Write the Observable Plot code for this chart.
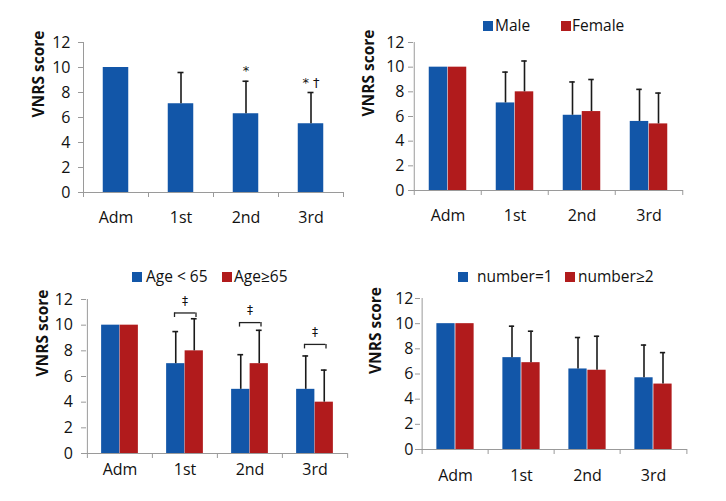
<!DOCTYPE html>
<html><head><meta charset="utf-8">
<script src="https://cdn.jsdelivr.net/npm/d3@7"></script>
<script src="https://cdn.jsdelivr.net/npm/@observablehq/plot@0.6"></script>
<style>
body{margin:0;background:#fff;font-family:"Open Sans",sans-serif;}
#wrap{position:relative;width:726px;height:501px;overflow:hidden;background:#fff;}
.panel{position:absolute;}
.leg{position:absolute;font-size:15.5px;color:#111;white-space:nowrap;line-height:1;}
.sw{position:absolute;width:10px;height:10px;}
</style></head><body><div id="wrap"></div>
<script>
const categories = ["Adm", "1st", "2nd", "3rd"];
const yTicks = [0, 2, 4, 6, 8, 10, 12];
const yLabel = "VNRS score";
const blue = "#1256a8", red = "#b11b1c";

// Panel A: all patients
const allSeries = ["All"];
const allMean = [10, 7.1, 6.3, 5.5];
const allUpper = [10, 9.6, 8.9, 8.0];
const allMarks = ["", "", "*", "* †"];

// Panel B: sex
const sexSeries = ["Male", "Female"];
const maleMean = [10, 7.1, 6.1, 5.6];
const maleUpper = [10, 9.6, 8.8, 8.2];
const femaleMean = [10, 8.0, 6.4, 5.4];
const femaleUpper = [10, 10.5, 9.0, 7.9];

// Panel C: age
const ageSeries = ["Age < 65", "Age≥65"];
const youngMean = [10, 7.0, 5.0, 5.0];
const youngUpper = [10, 9.5, 7.7, 7.6];
const oldMean = [10, 8.0, 7.0, 4.0];
const oldUpper = [10, 10.5, 9.6, 6.5];
const ageBracket = [null, 10.95, 10.2, 8.5];
const ageBracketMark = "‡";

// Panel D: number
const numSeries = ["number=1", "number≥2"];
const oneMean = [10, 7.3, 6.4, 5.7];
const oneUpper = [10, 9.8, 8.9, 8.3];
const twoMean = [10, 6.9, 6.3, 5.2];
const twoUpper = [10, 9.4, 9.0, 7.7];

const wrap = document.getElementById("wrap");

function panel(cfg) {
  const {left, top, width, height, mL, mR, mT, mB, series, means, uppers, colors, barW, yPad, xPad, labelDx} = cfg;
  const plotW = width - mL - mR;
  const plotH = height - mT - mB;
  const bw = plotW / categories.length;
  const unit = 12 / plotH; // value units per pixel
  const n = series.length;
  const off = si => n === 1 ? 0 : (si === 0 ? -barW / 2 : barW / 2);
  const marks = [];
  series.forEach((s, si) => {
    const rows = categories.map((c, i) => ({cat: c, mean: means[si][i], up: uppers[si][i]}));
    const o = off(si);
    marks.push(Plot.barY(rows, {x: "cat", y: "mean", fill: colors[si],
      insetLeft: bw / 2 + o - barW / 2, insetRight: bw / 2 - o - barW / 2}));
  });
  series.forEach((s, si) => {
    const rows = categories.map((c, i) => ({cat: c, mean: means[si][i], up: uppers[si][i]})).filter(d => d.up > d.mean);
    const o = off(si);
    marks.push(Plot.ruleX(rows, {x: "cat", y1: "mean", y2: "up", dx: o, stroke: "#1a1a1a", strokeWidth: 1.6}));
    marks.push(Plot.tickY(rows, {x: "cat", y: "up", dx: o, insetLeft: bw / 2 - 3, insetRight: bw / 2 - 3, stroke: "#1a1a1a", strokeWidth: 1.6}));
  });
  // axes lines
  marks.push(Plot.ruleY([0], {stroke: "#9a9a9a", strokeWidth: 1}));
  marks.push(Plot.ruleX([categories[0]], {x: d => d, dx: -bw / 2, y1: -5 * unit, y2: 12, stroke: "#9a9a9a", strokeWidth: 1}));
  marks.push(Plot.ruleX(categories.slice(1), {x: d => d, dx: -bw / 2, y1: 0, y2: -5 * unit, stroke: "#9a9a9a", strokeWidth: 1}));
  marks.push(Plot.ruleX([categories[categories.length - 1]], {x: d => d, dx: bw / 2, y1: 0, y2: -5 * unit, stroke: "#9a9a9a", strokeWidth: 1}));
  marks.push(Plot.axisY({ticks: yTicks, tickSize: 5, tickPadding: yPad, fontSize: 16, stroke: "#9a9a9a", fill: "#111", label: null}));
  marks.push(Plot.axisX({tickSize: 0, tickPadding: xPad, fontSize: 16, fill: "#111", label: null}));
  marks.push(Plot.text([yLabel], {frameAnchor: "left", dx: labelDx, rotate: -90, fontSize: 15.5, fontWeight: "bold", fill: "#111", text: d => d}));
  if (cfg.extra) marks.push(...cfg.extra(bw, unit));
  const svg = Plot.plot({
    width, height, marginLeft: mL, marginRight: mR, marginTop: mT, marginBottom: mB,
    style: {fontFamily: "'Open Sans', sans-serif", fontSize: "15px", color: "#111", background: "transparent", overflow: "visible"},
    x: {type: "band", domain: categories, padding: 0},
    y: {domain: [0, 12]},
    marks
  });
  const div = document.createElement("div");
  div.className = "panel";
  div.style.left = left + "px";
  div.style.top = top + "px";
  div.appendChild(svg);
  wrap.appendChild(div);
}

function legend(items) {
  items.forEach(it => {
    const sw = document.createElement("div");
    sw.className = "sw";
    sw.style.left = it.sx + "px"; sw.style.top = it.sy + "px"; sw.style.background = it.color;
    wrap.appendChild(sw);
    const t = document.createElement("div");
    t.className = "leg";
    t.style.left = it.tx + "px"; t.style.top = it.ty + "px";
    t.textContent = it.label;
    wrap.appendChild(t);
  });
}

// Panel A
panel({left: 0, top: 0, width: 350, height: 232, mL: 83, mR: 7, mT: 42, mB: 40,
  series: allSeries, means: [allMean], uppers: [allUpper], colors: [blue], barW: 25.5,
  yPad: 8, xPad: 19, labelDx: -44,
  extra: () => [Plot.text(categories.map((c, i) => ({cat: c, up: allUpper[i], m: allMarks[i]})).filter(d => d.m),
    {x: "cat", y: "up", text: "m", dy: -10, fontSize: 13, fontFamily: "DejaVu Sans", fill: "#111"})]
});

// Panel B
panel({left: 350, top: 0, width: 376, height: 230, mL: 63, mR: 43, mT: 42, mB: 40,
  series: sexSeries, means: [maleMean, femaleMean], uppers: [maleUpper, femaleUpper], colors: [blue, red], barW: 19,
  yPad: 4, xPad: 19, labelDx: -44});
legend([
  {sx: 483, sy: 21, tx: 495, ty: 18, color: blue, label: sexSeries[0]},
  {sx: 561, sy: 21, tx: 572, ty: 18, color: red, label: sexSeries[1]}
]);

// Panel C
panel({left: 0, top: 250, width: 350, height: 243, mL: 86, mR: 3, mT: 49, mB: 40,
  series: ageSeries, means: [youngMean, oldMean], uppers: [youngUpper, oldUpper], colors: [blue, red], barW: 18.5,
  yPad: 8.5, xPad: 10, labelDx: -43,
  extra: (bw, unit) => {
    const rows = categories.map((c, i) => ({cat: c, b: ageBracket[i]})).filter(d => d.b != null);
    return [
      Plot.tickY(rows, {x: "cat", y: "b", insetLeft: bw / 2 - 10.5, insetRight: bw / 2 - 11, stroke: "#222", strokeWidth: 1.3}),
      Plot.ruleX(rows, {x: "cat", y1: "b", y2: d => d.b - 4.5 * unit, dx: -10.5, stroke: "#222", strokeWidth: 1.3}),
      Plot.ruleX(rows, {x: "cat", y1: "b", y2: d => d.b - 4.5 * unit, dx: 11, stroke: "#222", strokeWidth: 1.3}),
      Plot.text(rows, {x: "cat", y: "b", text: () => ageBracketMark, dy: -12, fontSize: 12, fontFamily: "DejaVu Sans", fill: "#111"})
    ];
  }
});
legend([
  {sx: 132, sy: 272, tx: 146, ty: 269, color: blue, label: ageSeries[0]},
  {sx: 222, sy: 272, tx: 234, ty: 269, color: red, label: ageSeries[1]}
]);

// Panel D
panel({left: 350, top: 250, width: 376, height: 240, mL: 70, mR: 39, mT: 48, mB: 41,
  series: numSeries, means: [oneMean, twoMean], uppers: [oneUpper, twoUpper], colors: [blue, red], barW: 19,
  yPad: 2, xPad: 20, labelDx: -44.5});
legend([
  {sx: 458, sy: 272, tx: 477, ty: 269, color: blue, label: numSeries[0]},
  {sx: 565, sy: 272, tx: 578, ty: 269, color: red, label: numSeries[1]}
]);
</script></body></html>
